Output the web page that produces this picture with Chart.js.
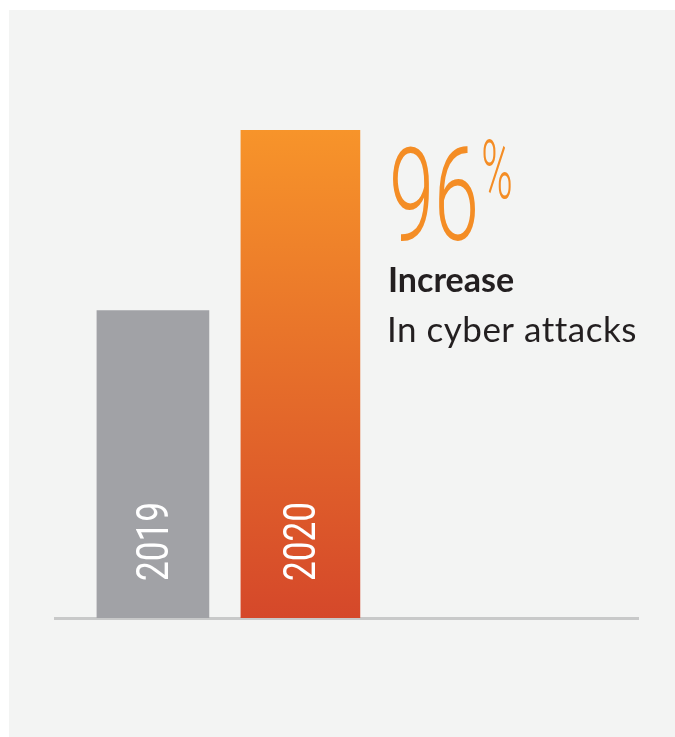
<!DOCTYPE html>
<html>
<head>
<meta charset="utf-8">
<script src="https://cdn.jsdelivr.net/npm/chart.js@4/dist/chart.umd.min.js"></script>
<style>
    html, body { margin: 0; padding: 0; background: #ffffff; }
    #panel { position: absolute; left: 9px; top: 10px; width: 666px; height: 727px; background: #f3f4f3; }
    #wrap { position: absolute; left: 0; top: 0; width: 675px; height: 737px; }
</style>
</head>
<body>
<div id="panel"></div>
<div id="wrap"><canvas id="attackChart" width="675" height="737"></canvas></div>
<script>
// data (2020 bar = 100)
var years = ['2019', '2020'];
var barValues = [63, 100];
var statValue = '96';
var statUnit = '%';
var statTitle = 'Increase';
var statText = 'In cyber attacks';

var grey = '#a1a2a6';

function orangeGradient(context) {
    var chart = context.chart;
    var area = chart.chartArea;
    if (!area) return '#e66a2a';
    var g = chart.ctx.createLinearGradient(0, area.top, 0, area.bottom);
    g.addColorStop(0, '#f7942a');
    g.addColorStop(1, '#d5482a');
    return g;
}

var labelPlugin = {
    id: 'labels',
    afterDatasetsDraw: function(chart) {
        var ctx = chart.ctx;
        var x = chart.scales.x;
        var y = chart.scales.y;
        var base = y.getPixelForValue(0);

        // year labels inside the bars
        ctx.save();
        ctx.fillStyle = '#ffffff';
        ctx.font = '44px Roboto';
        ctx.textAlign = 'left';
        ctx.textBaseline = 'alphabetic';
        for (var i = 0; i < years.length; i++) {
            var cx = x.getPixelForValue(i);
            ctx.save();
            ctx.translate(cx + 15, base - 37);
            ctx.rotate(-Math.PI / 2);
            ctx.scale(0.8, 1);
            ctx.fillText(years[i], 0, 0);
            ctx.restore();
        }
        ctx.restore();

        // callout next to the tall bar
        var left = 388;
        ctx.save();
        ctx.fillStyle = '#f48d25';
        ctx.font = '300 129px Roboto';
        ctx.save();
        ctx.translate(left + 1, 240);
        ctx.scale(0.63, 1);
        ctx.fillText(statValue, 0, 0);
        var w = ctx.measureText(statValue).width;
        ctx.restore();
        ctx.font = '300 82px Roboto';
        ctx.save();
        ctx.translate(left + 1 + w * 0.63 + 2, 198);
        ctx.scale(0.52, 1);
        ctx.fillText(statUnit, 0, 0);
        ctx.restore();

        ctx.fillStyle = '#231f20';
        ctx.font = 'bold 34px Lato';
        ctx.fillText(statTitle, left, 292);
        ctx.font = '35px Lato';
        ctx.letterSpacing = '0.5px';
        ctx.fillText(statText, left - 1, 342);
        ctx.restore();
    }
};

var attackChart = document.getElementById('attackChart');
var myChart = new Chart(attackChart, {
    type: 'bar',
    data: {
        datasets: [{
            label: years[0],
            data: [{ x: 0, y: barValues[0] }],
            backgroundColor: grey,
            barThickness: 112,
            grouped: false
        }, {
            label: years[1],
            data: [{ x: 1, y: barValues[1] }],
            backgroundColor: orangeGradient,
            barThickness: 119,
            grouped: false
        }]
    },
    options: {
        responsive: false,
        animation: false,
        layout: {
            padding: { left: 55, right: 37, top: 130, bottom: 111 }
        },
        scales: {
            x: {
                type: 'linear',
                offset: false,
                min: -0.664,
                max: 3.289,
                grid: { display: false },
                ticks: { display: false },
                border: { display: true, color: '#c8c9c9', width: 3 }
            },
            y: {
                min: 0,
                max: 100,
                display: false
            }
        },
        plugins: {
            legend: { display: false },
            tooltip: { enabled: false }
        }
    },
    plugins: [labelPlugin]
});
</script>
</body>
</html>
